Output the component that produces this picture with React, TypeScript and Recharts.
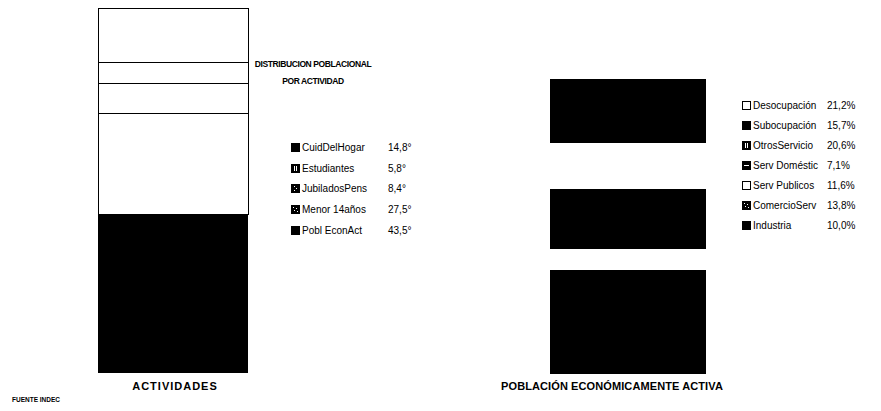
import React from "react";
import { BarChart, Bar, XAxis, YAxis } from "recharts";

// Distribución poblacional por actividad (%), bottom to top
const actividadKeys = ["PoblEconAct", "Menor14", "Jubilados", "Estudiantes", "CuidDelHogar"];
const actividadValues = [43.5, 27.5, 8.4, 5.8, 14.8];
const actividadLabels = ["Pobl EconAct", "Menor 14años", "JubiladosPens", "Estudiantes", "CuidDelHogar"];
const actividadText = ["43,5°", "27,5°", "8,4°", "5,8°", "14,8°"];

// Población económicamente activa (%), bottom to top
const peaKeys = ["Industria", "Comercio", "ServPublicos", "ServDomestic", "OtrosServ", "Subocup", "Desocup"];
const peaValues = [10.0, 13.8, 11.6, 7.1, 20.6, 15.7, 21.2];
const peaLabels = ["Industria", "ComercioServ", "Serv Publicos", "Serv Doméstic", "OtrosServicio", "Subocupación", "Desocupación"];
const peaText = ["10,0%", "13,8%", "11,6%", "7,1%", "20,6%", "15,7%", "21,2%"];

const actFills = ["#000", "#fff", "#fff", "#fff", "#fff"];
const actSwatch = ["solid", "dots", "grid", "bars", "solid"];
const peaFills = ["#000", "#000", "#000", "#fff", "#000", "#fff", "#000"];
const peaSwatch = ["solid", "dots", "open", "hline", "bars", "solid", "open"];

const buildRow = (keys: string[], values: number[]) => {
  const row: Record<string, number | string> = { name: "x" };
  keys.forEach((k, i) => (row[k] = values[i]));
  return [row];
};

const Swatch = ({ kind }: { kind: string }) => (
  <svg width={9} height={9} style={{ marginRight: 2, flex: "none" }}>
    <rect x={0.5} y={0.5} width={8} height={8} fill={kind === "open" ? "#fff" : "#000"} stroke="#000" />
    {kind === "bars" && (
      <>
        <rect x={3} y={2} width={1} height={5} fill="#fff" />
        <rect x={5} y={2} width={1} height={5} fill="#fff" />
      </>
    )}
    {kind === "hline" && <rect x={2} y={4} width={5} height={1} fill="#fff" />}
    {kind === "grid" && (
      <>
        <rect x={3} y={2} width={1} height={1} fill="#fff" />
        <rect x={5} y={4} width={1} height={1} fill="#fff" />
        <rect x={3} y={6} width={1} height={1} fill="#fff" />
      </>
    )}
    {kind === "dots" && (
      <>
        <rect x={2} y={2} width={1} height={1} fill="#fff" />
        <rect x={5} y={3} width={1} height={1} fill="#fff" />
        <rect x={3} y={5} width={1} height={1} fill="#fff" />
        <rect x={6} y={6} width={1} height={1} fill="#fff" />
      </>
    )}
  </svg>
);

const font = "'Liberation Sans', Arial, sans-serif";

const LegendList = ({
  labels,
  text,
  swatch,
  left,
  top,
  step,
  labelWidth,
}: {
  labels: string[];
  text: string[];
  swatch: string[];
  left: number;
  top: number;
  step: number;
  labelWidth: number;
}) => (
  <div style={{ position: "absolute", left, top, fontFamily: font, fontSize: 10 }}>
    {labels
      .map((l, i) => ({ l, t: text[i], s: swatch[i] }))
      .reverse()
      .map((it, i) => (
        <div key={i} style={{ display: "flex", alignItems: "center", height: step, whiteSpace: "nowrap" }}>
          <Swatch kind={it.s} />
          <span style={{ display: "inline-block", width: labelWidth }}>{it.l}</span>
          <span>{it.t}</span>
        </div>
      ))}
  </div>
);

const bold: React.CSSProperties = {
  position: "absolute",
  fontFamily: font,
  fontWeight: "bold",
  whiteSpace: "nowrap",
};

export default function App() {
  return (
    <div style={{ position: "absolute", left: 0, top: 0, width: 881, height: 411, background: "#fff" }}>
      <div style={{ position: "absolute", left: 0, top: 0, shapeRendering: "crispEdges" }}>
        <BarChart
          width={440}
          height={411}
          data={buildRow(actividadKeys, actividadValues)}
          margin={{ top: 8, left: 98, right: 192, bottom: 38 }}
          barCategoryGap={0}
        >
          <XAxis dataKey="name" hide />
          <YAxis hide domain={[0, 100]} />
          {actividadKeys.map((k, i) => (
            <Bar
              key={k}
              dataKey={k}
              stackId="a"
              fill={actFills[i]}
              stroke="#000"
              strokeWidth={i === 0 ? 0 : 1}
              isAnimationActive={false}
            />
          ))}
        </BarChart>
      </div>
      <div style={{ position: "absolute", left: 440, top: 0, shapeRendering: "crispEdges" }}>
        <BarChart
          width={441}
          height={411}
          data={buildRow(peaKeys, peaValues)}
          margin={{ top: 80, left: 111, right: 176, bottom: 38 }}
          barCategoryGap={0}
        >
          <XAxis dataKey="name" hide />
          <YAxis hide domain={[0, 100]} />
          {peaKeys.map((k, i) => (
            <Bar
              key={k}
              dataKey={k}
              stackId="b"
              fill={peaFills[i]}
              stroke={peaFills[i]}
              strokeWidth={1.2}
              isAnimationActive={false}
            />
          ))}
        </BarChart>
      </div>

      <div style={{ ...bold, left: 253, top: 56, width: 120, fontSize: 8.5, letterSpacing: -0.4, textAlign: "center", lineHeight: "17px" }}>
        DISTRIBUCION POBLACIONAL
        <br />
        POR ACTIVIDAD
      </div>

      <LegendList labels={actividadLabels} text={actividadText} swatch={actSwatch} left={291} top={137} step={20.8} labelWidth={86} />
      <LegendList labels={peaLabels} text={peaText} swatch={peaSwatch} left={742} top={95} step={20} labelWidth={74} />

      <div style={{ ...bold, left: 115, top: 380, width: 120, textAlign: "center", fontSize: 11, letterSpacing: 1 }}>ACTIVIDADES</div>
      <div style={{ ...bold, left: 497, top: 380, width: 230, textAlign: "center", fontSize: 11, letterSpacing: 0.1 }}>
        POBLACIÓN ECONÓMICAMENTE ACTIVA
      </div>
      <div style={{ ...bold, left: 12, top: 396, fontSize: 6.5 }}>FUENTE INDEC</div>
    </div>
  );
}
